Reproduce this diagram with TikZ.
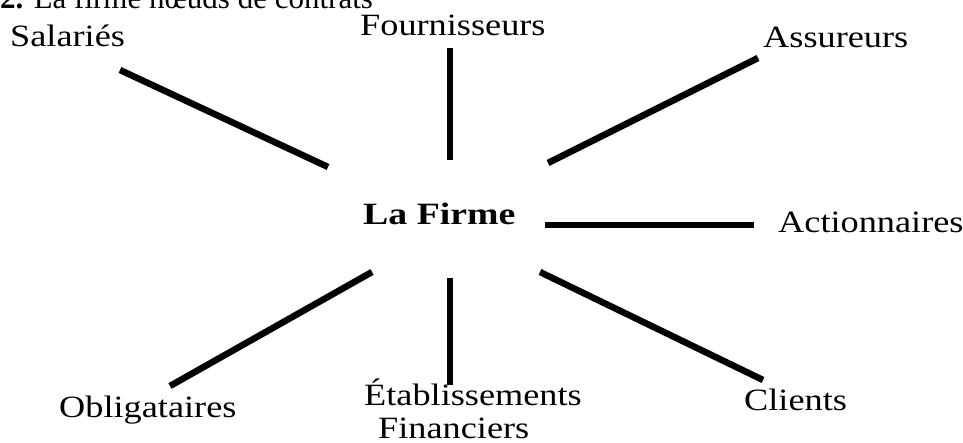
\documentclass[tikz,border=0pt]{standalone}
\usepackage{fontspec}
\usepackage{graphicx}
\setmainfont{Liberation Serif}
\newcommand{\lblx}[1]{\scalebox{1.17}[1]{#1}}
\newcommand{\lblb}[1]{\scalebox{1.22}[1]{\bfseries #1}}
\tikzset{
  lbl/.style={anchor=base west, inner sep=0pt, font=\fontsize{31}{33}\selectfont},
  link/.style={line width=6.5pt, line cap=butt}
}
\begin{document}
\begin{tikzpicture}[x=1pt,y=-1pt]
\useasboundingbox (0,0) rectangle (963,443);
\clip (0,0) rectangle (963,443);
\node[lbl] (title) at (0,9) {\textbf{2.} La firme nœuds de contrats};
\node[lbl] (sal) at (10,47) {\lblx{Salariés}};
\node[lbl] (four) at (360,36) {\lblx{Fournisseurs}};
\node[lbl] (ass) at (763,48) {\lblx{Assureurs}};
\node[lbl] (firme) at (363,225) {\lblb{La Firme}};
\node[lbl] (act) at (778,233) {\lblx{Actionnaires}};
\node[lbl] (obl) at (59,417) {\lblx{Obligataires}};
\node[lbl] (eta) at (364,405) {\lblx{Établissements}};
\node[lbl] (fin) at (378,438) {\lblx{Financiers}};
\node[lbl] (cli) at (744,410) {\lblx{Clients}};
\coordinate (s1) at (120,70);  \coordinate (s2) at (328,167);
\coordinate (f1) at (450,48);  \coordinate (f2) at (450,160);
\coordinate (a1) at (548,163); \coordinate (a2) at (758,58);
\coordinate (ac1) at (545,225); \coordinate (ac2) at (754,225);
\coordinate (o1) at (372,272); \coordinate (o2) at (170,386);
\coordinate (e1) at (450,278); \coordinate (e2) at (450,385);
\coordinate (c1) at (540,272); \coordinate (c2) at (763,380);
\draw[link] (s1) -- (s2);
\draw[link] (f1) -- (f2);
\draw[link] (a1) -- (a2);
\draw[link] (ac1) -- (ac2);
\draw[link] (o1) -- (o2);
\draw[link] (e1) -- (e2);
\draw[link] (c1) -- (c2);
\end{tikzpicture}
\end{document}
